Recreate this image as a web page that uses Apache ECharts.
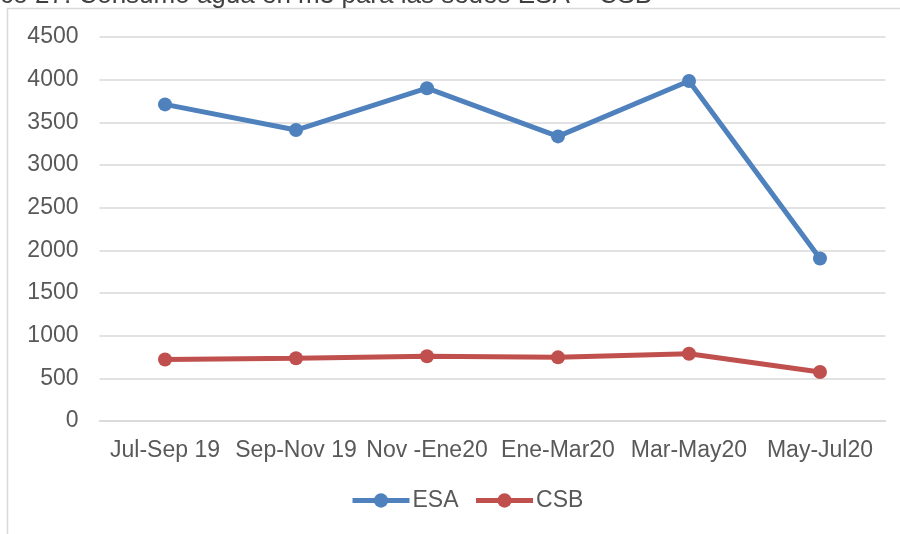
<!DOCTYPE html>
<html><head><meta charset="utf-8">
<script src="https://cdn.jsdelivr.net/npm/echarts@6/dist/echarts.min.js"></script>
<style>html,body{margin:0;padding:0;background:#fff}#c{width:900px;height:534px}</style>
</head><body><div id="c"></div>
<script>
const titleText = 'Gráfico 27. Consumo agua en m3 para las sedes ESA – CSB';
const categories = ['Jul-Sep 19', 'Sep-Nov 19', 'Nov -Ene20', 'Ene-Mar20', 'Mar-May20', 'May-Jul20'];
const esa = [3710, 3410, 3900, 3335, 3985, 1905];
const csb = [720, 735, 758, 746, 788, 574];
const yMin = 0, yMax = 4500, yStep = 500;

const chart = echarts.init(document.getElementById('c'), null, {renderer: 'canvas'});
const font = 'Liberation Sans, Arial, sans-serif';
chart.setOption({
  animation: false,
  backgroundColor: '#fff',
  graphic: [
    {type: 'rect', shape: {x: 7.5, y: 8.5, width: 920, height: 600}, style: {fill: 'none', stroke: '#d9d9d9', lineWidth: 1.5}, z: -1},
    {type: 'text', x: -56, y: 9, style: {text: titleText, font: '26px ' + font, fill: '#404040', verticalAlign: 'bottom'}}
  ],
  grid: {left: 99.5, right: 14.5, top: 37, bottom: 113, containLabel: false},
  legend: {
    data: ['ESA', 'CSB'], bottom: 17, left: 345,
    itemWidth: 57, itemHeight: 18, itemGap: 15,
    lineStyle: {width: 5},
    textStyle: {fontSize: 23, color: '#595959', fontFamily: font, padding: [0, 0, 0, -2]}
  },
  xAxis: {
    type: 'category', data: categories, boundaryGap: true,
    axisLine: {show: true, lineStyle: {color: '#d9d9d9', width: 1.5}},
    axisTick: {show: false},
    axisLabel: {fontSize: 23, color: '#595959', fontFamily: font, margin: 18, interval: 0}
  },
  yAxis: {
    type: 'value', min: yMin, max: yMax, interval: yStep,
    axisLine: {show: false}, axisTick: {show: false},
    splitLine: {lineStyle: {color: '#d9d9d9', width: 1.5}},
    axisLabel: {fontSize: 23, color: '#595959', fontFamily: font, margin: 21, formatter: v => String(v)}
  },
  series: [
    {name: 'ESA', type: 'line', data: esa, color: '#4f81bd', symbol: 'circle', symbolSize: 14,
     lineStyle: {width: 5, color: '#4f81bd'}, itemStyle: {color: '#4f81bd'}},
    {name: 'CSB', type: 'line', data: csb, color: '#c0504d', symbol: 'circle', symbolSize: 14,
     lineStyle: {width: 5, color: '#c0504d'}, itemStyle: {color: '#c0504d'}}
  ]
});
</script></body></html>
